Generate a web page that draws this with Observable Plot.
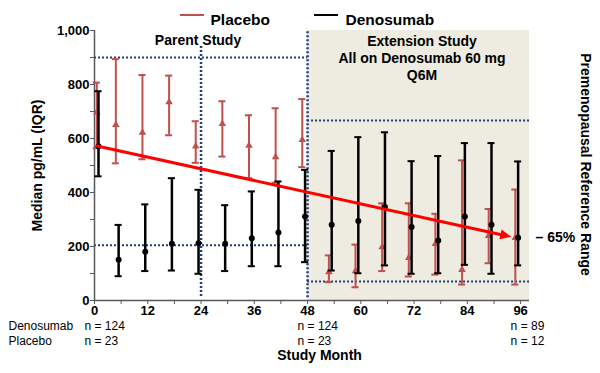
<!DOCTYPE html>
<html>
<head>
<meta charset="utf-8">
<script src="https://cdn.jsdelivr.net/npm/d3@7"></script>
<script src="https://cdn.jsdelivr.net/npm/@observablehq/plot@0.6"></script>
<style>
  html, body { margin: 0; padding: 0; background: #fff; }
  #chart svg { display: block; }
</style>
</head>
<body>
<div id="chart"></div>
<script>
// ---- data ----
const months = [0, 6, 12, 18, 24, 30, 36, 42, 48, 54, 60, 66, 72, 78, 84, 90, 96];
const placeboMedian = [697, 651, 622, 735, 571, 654, 574, 531, 595, 105, 109, 198, 158, 210, 114, 240, 232];
const placeboQ1     = [564, 508, 523, 612, 510, 533, 453, 436, 494,  68,  49, 109,  89,  96,  59, 138,  59];
const placeboQ3     = [807, 894, 835, 833, 664, 738, 686, 712, 746, 167, 207, 360, 360, 321, 519, 339, 411];
const denosumabMedian = [571, 151, 181, 210, 212, 210, 231, 252, 311, 281, 294, 346, 272, 222, 311, 281, 232];
const denosumabQ1     = [460,  90, 109, 111,  99, 109, 127, 127, 142, 111, 101, 130,  99, 101, 132,  99, 130];
const denosumabQ3     = [775, 280, 356, 453, 410, 353, 404, 441, 484, 554, 605, 623, 516, 535, 583, 583, 515];

const nMonths = [0, 48, 96];
const denosumabN = ["n = 124", "n = 124", "n = 89"];
const placeboN = ["n = 23", "n = 23", "n = 12"];

const xTickValues = [0, 6, 12, 18, 24, 30, 36, 42, 48, 54, 60, 66, 72, 78, 84, 90, 96];
const xTickLabels = ["0", "", "12", "", "24", "", "36", "", "48", "", "60", "", "72", "", "84", "", "96"];
const yTickValues = [0, 100, 200, 300, 400, 500, 600, 700, 800, 900, 1000];
const yTickLabels = ["0", "", "200", "", "400", "", "600", "", "800", "", "1,000"];

const parentStudy = [0, 48];
const extensionStudy = [48, 98];
const refParent = [205, 900];
const refExtension = [70, 667];
const dividerMonths = [24, 48];
const dividerLow = [15, 10];
const dividerHigh = [945, 1000];
const trendMonths = [0, 94];
const trendValues = [571, 234];
const trendLabel = "– 65%";

// ---- tables built from the arrays ----
const placebo = months.map((m, i) => ({month: m, median: placeboMedian[i], q1: placeboQ1[i], q3: placeboQ3[i]}));
const denosumab = months.map((m, i) => ({month: m, median: denosumabMedian[i], q1: denosumabQ1[i], q3: denosumabQ3[i]}));
const nTable = nMonths.map((m, i) => ({month: m, deno: denosumabN[i], plac: placeboN[i]}));
const refLines = [
  ...refParent.map(v => ({x1: parentStudy[0], x2: parentStudy[1], y: v})),
  ...refExtension.map(v => ({x1: extensionStudy[0], x2: extensionStudy[1], y: v}))
];
const dividers = dividerMonths.map((m, i) => ({x: m, y1: dividerLow[i], y2: dividerHigh[i]}));
const trend = trendMonths.map((m, i) => ({month: m, value: trendValues[i]}));
const xTickFmt = new Map(xTickValues.map((v, i) => [v, xTickLabels[i]]));
const yTickFmt = new Map(yTickValues.map((v, i) => [v, yTickLabels[i]]));

// ---- styles ----
const RED = "#c0504d";
const BLACK = "#000000";
const ARROW = "#ff0000";
const REF = "#1f3f7a";
const SHADE = "#eeebe1";
const AXIS = "#595959";
const CAP = 0.8;

function seriesMarks(data, color, symbol, r, width, dx0, dx) {
  const base = d => d.month === 0;
  const rest = d => d.month !== 0;
  const out = [];
  for (const [filter, off] of [[base, dx0], [rest, dx]]) {
    out.push(
      Plot.ruleX(data, {filter, x: "month", y1: "q1", y2: "q3", stroke: color, strokeWidth: width, dx: off}),
      Plot.ruleY(data, {filter, y: "q1", x1: d => d.month - CAP, x2: d => d.month + CAP, stroke: color, strokeWidth: 2, dx: off}),
      Plot.ruleY(data, {filter, y: "q3", x1: d => d.month - CAP, x2: d => d.month + CAP, stroke: color, strokeWidth: 2, dx: off}),
      Plot.dot(data, {filter, x: "month", y: "median", symbol, r, fill: color, stroke: "none", dx: off})
    );
  }
  return out;
}

const legend = () => {
  const g = d3.create("svg:g");
  g.append("line").attr("x1", 180).attr("x2", 204).attr("y1", 15).attr("y2", 15)
    .attr("stroke", RED).attr("stroke-width", 2);
  g.append("line").attr("x1", 314).attr("x2", 338).attr("y1", 15).attr("y2", 15)
    .attr("stroke", BLACK).attr("stroke-width", 2);
  return g.node();
};

const plot = Plot.plot({
  width: 600,
  height: 373,
  marginLeft: 94,
  marginRight: 71,
  marginTop: 30,
  marginBottom: 73,
  style: {fontFamily: "Arial, 'Liberation Sans', sans-serif", fontSize: "13px", fontWeight: "bold", color: "#000", background: "#fff"},
  x: {domain: [0, 98]},
  y: {domain: [0, 1000]},
  marks: [
    Plot.rect([extensionStudy], {x1: d => d[0], x2: d => d[1], y1: 0, y2: 1000, fill: SHADE}),
    Plot.ruleY(refLines, {x1: "x1", x2: "x2", y: "y", stroke: REF, strokeWidth: 2, strokeDasharray: "2,2"}),
    Plot.ruleX(dividers, {x: "x", y1: "y1", y2: "y2", stroke: REF, strokeWidth: 2.5, strokeDasharray: "2,2"}),
    Plot.ruleY([0], {x1: 0, x2: 98, stroke: AXIS, strokeWidth: 1.5}),
    Plot.ruleX([0], {y1: 0, y2: 1000, stroke: AXIS, strokeWidth: 1.5}),
    Plot.axisX({ticks: xTickValues, tickFormat: d => xTickFmt.get(d), tickSize: 4, tickPadding: 1, stroke: AXIS, fill: "#000", fontSize: 13, fontWeight: "bold", label: null}),
    Plot.axisY({ticks: yTickValues, tickFormat: d => yTickFmt.get(d), tickSize: 4, tickPadding: 1, stroke: AXIS, fill: "#000", fontSize: 13, fontWeight: "bold", label: null}),
    ...seriesMarks(placebo, RED, "triangle", 2.8, 2, 2.3, -5.3),
    ...seriesMarks(denosumab, BLACK, "circle", 3, 2.5, 4, -2.5),
    Plot.line(trend, {
      x: "month", y: "value", stroke: ARROW, strokeWidth: 3,
      render(index, scales, values) {
        const X = values.x, Y = values.y;
        const i0 = index[0], i1 = index[index.length - 1];
        const x0 = X[i0] + 2, y0 = Y[i0], x1 = X[i1], y1 = Y[i1];
        const a = Math.atan2(y1 - y0, x1 - x0), L = 11, W = 5;
        const c = Math.cos(a), s = Math.sin(a);
        const bx = x1 - L * c, by = y1 - L * s;
        const g = d3.create("svg:g");
        g.append("line").attr("x1", x0).attr("y1", y0).attr("x2", bx + c).attr("y2", by + s)
          .attr("stroke", ARROW).attr("stroke-width", 3);
        g.append("polygon")
          .attr("points", [[x1, y1], [bx - W * s, by + W * c], [bx + W * s, by - W * c]].map(p => p.join(",")).join(" "))
          .attr("fill", ARROW);
        return g.node();
      }
    }),
    Plot.text([trendValues[1]], {y: d => d, frameAnchor: "right", textAnchor: "start", dx: 6, text: () => trendLabel, fontSize: 14, fontWeight: "bold"}),
    // Study labels
    Plot.text(["Parent Study"], {frameAnchor: "top", textAnchor: "middle", dx: -114, dy: 5, text: d => d, fontSize: 14, fontWeight: "bold"}),
    Plot.text(["Extension Study\nAll on Denosumab 60 mg\nQ6M"], {frameAnchor: "top", textAnchor: "middle", lineAnchor: "top", dx: 110, dy: 3.5, lineHeight: 1.21, text: d => d, fontSize: 14, fontWeight: "bold"}),
    // Axis titles
    Plot.text(["Median pg/mL (IQR)"], {frameAnchor: "left", textAnchor: "middle", dx: -57, rotate: -90, text: d => d, fontSize: 14, fontWeight: "bold"}),
    Plot.text(["Premenopausal Reference Range"], {frameAnchor: "right", textAnchor: "middle", dx: 56, dy: -1, rotate: 90, text: d => d, fontSize: 14, fontWeight: "bold"}),
    Plot.text(["Study Month"], {frameAnchor: "bottom", textAnchor: "middle", dx: 7.5, dy: 59.5, text: d => d, fontSize: 14, fontWeight: "bold"}),
    // n table
    Plot.text(["Denosumab"], {frameAnchor: "bottom-left", textAnchor: "start", dx: -86, dy: 29.5, text: d => d, fontSize: 12, fontWeight: "normal"}),
    Plot.text(["Placebo"], {frameAnchor: "bottom-left", textAnchor: "start", dx: -86, dy: 44, text: d => d, fontSize: 12, fontWeight: "normal"}),
    Plot.text(nTable, {x: "month", frameAnchor: "bottom", textAnchor: "start", dx: -10, dy: 29.5, text: "deno", fontSize: 12, fontWeight: "normal"}),
    Plot.text(nTable, {x: "month", frameAnchor: "bottom", textAnchor: "start", dx: -10, dy: 44, text: "plac", fontSize: 12, fontWeight: "normal"}),
    // Legend
    legend,
    Plot.text(["Placebo"], {frameAnchor: "top-left", textAnchor: "start", dx: 116, dy: -16.5, text: d => d, fontSize: 15.5, fontWeight: "bold"}),
    Plot.text(["Denosumab"], {frameAnchor: "top-left", textAnchor: "start", dx: 251, dy: -16.5, text: d => d, fontSize: 15.5, fontWeight: "bold"})
  ]
});
document.getElementById("chart").appendChild(plot);
</script>
</body>
</html>
